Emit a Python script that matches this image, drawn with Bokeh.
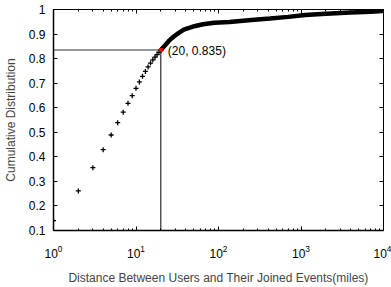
from bokeh.plotting import figure
from bokeh.models import LogAxis, LinearAxis, FixedTicker, LogTicker, Label
from bokeh.embed import file_html
from bokeh.resources import INLINE

# discrete points (integer distances)
pts_x = [1, 2, 3, 4, 5, 6, 7, 8, 9, 10, 11, 12, 13, 14, 15, 16, 17, 18, 19, 20]
pts_y = [0.14, 0.261, 0.356, 0.429, 0.489, 0.539, 0.582, 0.618, 0.649, 0.679,
         0.705, 0.728, 0.748, 0.766, 0.782, 0.795, 0.806, 0.816, 0.826, 0.835]

# dense part of the CDF (visually a thick band of markers)
curve_x = [20, 22, 25, 29, 33, 38, 45, 51, 65, 89, 136, 250, 420, 700, 1120, 2000, 4000, 7000, 9600, 10000]
curve_y = [0.835, 0.850, 0.872, 0.891, 0.905, 0.918, 0.926, 0.932, 0.940, 0.946,
           0.949, 0.957, 0.963, 0.970, 0.978, 0.983, 0.988, 0.991, 0.994, 1.0]

# highlighted point
mark_x = [20]
mark_y = [0.835]
mark_text = "(20, 0.835)"

y_ticks = [0.1, 0.2, 0.3, 0.4, 0.5, 0.6, 0.7, 0.8, 0.9, 1.0]
x_range = (1, 10000)
y_range = (0.1, 1.0)

FONT = "Liberation Sans"

p = figure(width=391, height=287, x_axis_type="log", x_range=x_range, y_range=y_range,
           output_backend="svg", toolbar_location=None,
           min_border_left=53, min_border_right=8, min_border_top=9, min_border_bottom=56)
p.xgrid.visible = False
p.ygrid.visible = False
p.outline_line_color = "black"
p.background_fill_color = "white"
p.border_fill_color = "white"

# main axes
xa = p.xaxis[0]
xa.axis_label = "Distance Between Users and Their Joined Events(miles)"
xa.ticker = LogTicker(num_minor_ticks=10)
ya = p.yaxis[0]
ya.axis_label = "Cumulative Distribution"
ya.ticker = FixedTicker(ticks=y_ticks)

for ax in (xa, ya):
    ax.axis_label_text_font = FONT
    ax.axis_label_text_font_style = "normal"
    ax.axis_label_text_font_size = "12px"
    ax.major_label_text_font = FONT
    ax.major_label_text_font_size = "12px"
    ax.major_label_text_color = "black"
    ax.axis_line_color = "black"
    ax.axis_line_width = 1.5
    ax.major_tick_in = 4
    ax.major_tick_out = 0
    ax.minor_tick_in = 2
    ax.minor_tick_out = 0
    ax.major_tick_line_color = "black"
    ax.minor_tick_line_color = "black"
ya.minor_tick_line_color = None
ya.major_label_standoff = 8
ya.axis_label_standoff = 8
xa.major_label_standoff = 14
xa.axis_label_standoff = 10

# mirrored ticks on top/right (labels invisible)
top = LogAxis(ticker=LogTicker(num_minor_ticks=10), major_label_text_font_size="1px",
              major_label_text_alpha=0,
              major_tick_in=4, major_tick_out=0, minor_tick_in=2, minor_tick_out=0,
              major_label_standoff=0, axis_line_color="black")
right = LinearAxis(ticker=FixedTicker(ticks=y_ticks), major_label_text_font_size="1px",
                   major_label_text_alpha=0,
                   major_tick_in=4, major_tick_out=0, minor_tick_line_color=None,
                   major_label_standoff=0, axis_line_color="black")
p.add_layout(top, "above")
p.add_layout(right, "right")

# reference lines
p.line([x_range[0], mark_x[0]], [mark_y[0], mark_y[0]], line_color="#777777", line_width=1.5)
p.line([mark_x[0], mark_x[0]], [y_range[0], mark_y[0]], line_color="black", line_width=1)

# data
p.line(curve_x, curve_y, line_color="black", line_width=4.5)
p.scatter(pts_x, pts_y, marker="cross", size=5, line_color="black", line_width=1.3)
p.scatter(mark_x, mark_y, marker="square", size=3, line_color="red", fill_color="red")

p.add_layout(Label(x=mark_x[0], y=mark_y[0], text=mark_text, x_offset=7, y_offset=-1,
                   text_font=FONT, text_font_size="12px", text_color="black",
                   text_baseline="middle"))

open("out.html", "w").write(file_html(p, INLINE))
